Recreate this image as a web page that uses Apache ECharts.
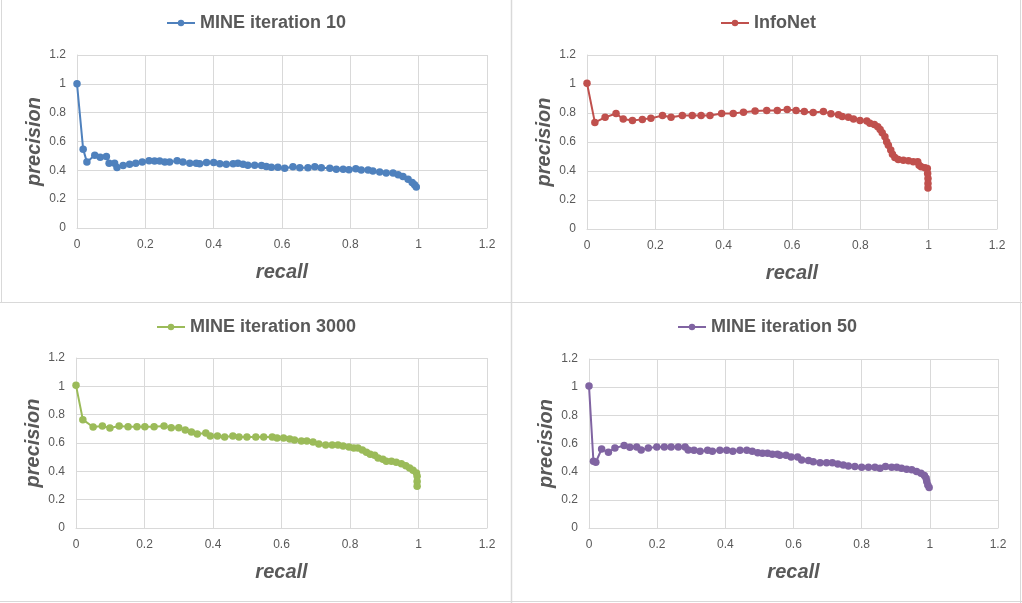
<!DOCTYPE html>
<html>
<head>
<meta charset="utf-8">
<script src="https://cdn.jsdelivr.net/npm/echarts@6/dist/echarts.min.js"></script>
<style>
  html, body { margin: 0; padding: 0; background: #fff; }
  #main { width: 1022px; height: 603px; }
</style>
</head>
<body>
<div id="main"></div>
<script>
// recall / precision
var mine10Recall = [0, 0.018, 0.029, 0.052, 0.068, 0.086, 0.094, 0.11, 0.117, 0.135, 0.154, 0.172, 0.191, 0.211, 0.227, 0.242, 0.257, 0.271, 0.293, 0.31, 0.33, 0.349, 0.359, 0.379, 0.4, 0.418, 0.437, 0.457, 0.471, 0.486, 0.5, 0.52, 0.54, 0.554, 0.569, 0.588, 0.608, 0.632, 0.652, 0.676, 0.696, 0.715, 0.74, 0.759, 0.779, 0.796, 0.816, 0.832, 0.852, 0.866, 0.886, 0.905, 0.925, 0.94, 0.954, 0.969, 0.981, 0.988, 0.993];
var mine10Precision = [1.0, 0.547, 0.457, 0.505, 0.49, 0.496, 0.45, 0.45, 0.42, 0.434, 0.443, 0.45, 0.457, 0.466, 0.464, 0.464, 0.457, 0.457, 0.466, 0.457, 0.45, 0.45, 0.445, 0.455, 0.455, 0.445, 0.443, 0.445, 0.45, 0.443, 0.436, 0.436, 0.434, 0.427, 0.422, 0.422, 0.415, 0.425, 0.418, 0.418, 0.425, 0.418, 0.415, 0.408, 0.408, 0.404, 0.411, 0.402, 0.402, 0.395, 0.388, 0.381, 0.381, 0.369, 0.358, 0.339, 0.316, 0.30, 0.284];

var infoRecall = [0, 0.023, 0.053, 0.085, 0.106, 0.133, 0.162, 0.187, 0.221, 0.246, 0.279, 0.308, 0.334, 0.36, 0.394, 0.428, 0.458, 0.492, 0.526, 0.557, 0.586, 0.612, 0.636, 0.662, 0.692, 0.714, 0.736, 0.747, 0.765, 0.78, 0.799, 0.819, 0.828, 0.841, 0.851, 0.858, 0.864, 0.872, 0.877, 0.882, 0.889, 0.894, 0.901, 0.911, 0.926, 0.941, 0.955, 0.968, 0.972, 0.978, 0.989, 0.996, 0.997, 0.998, 0.998, 0.998];
var infoPrecision = [1.005, 0.735, 0.77, 0.797, 0.758, 0.749, 0.756, 0.763, 0.783, 0.77, 0.783, 0.783, 0.783, 0.783, 0.797, 0.797, 0.806, 0.813, 0.818, 0.818, 0.825, 0.818, 0.811, 0.804, 0.811, 0.795, 0.788, 0.776, 0.77, 0.758, 0.749, 0.744, 0.73, 0.721, 0.705, 0.687, 0.664, 0.636, 0.601, 0.578, 0.544, 0.516, 0.493, 0.479, 0.475, 0.47, 0.463, 0.463, 0.44, 0.429, 0.422, 0.417, 0.383, 0.348, 0.313, 0.283];

var mine3000Recall = [0, 0.02, 0.05, 0.077, 0.099, 0.126, 0.152, 0.178, 0.201, 0.228, 0.257, 0.278, 0.3, 0.319, 0.337, 0.354, 0.379, 0.392, 0.413, 0.434, 0.458, 0.476, 0.499, 0.525, 0.548, 0.573, 0.587, 0.606, 0.624, 0.638, 0.658, 0.674, 0.692, 0.709, 0.729, 0.748, 0.765, 0.78, 0.797, 0.811, 0.823, 0.836, 0.848, 0.859, 0.872, 0.882, 0.896, 0.906, 0.921, 0.935, 0.95, 0.963, 0.974, 0.984, 0.994, 0.996, 0.996, 0.996];
var mine3000Precision = [1.007, 0.765, 0.713, 0.72, 0.706, 0.72, 0.715, 0.715, 0.715, 0.715, 0.72, 0.708, 0.708, 0.692, 0.678, 0.664, 0.671, 0.649, 0.649, 0.642, 0.649, 0.642, 0.642, 0.642, 0.642, 0.642, 0.635, 0.635, 0.628, 0.621, 0.614, 0.614, 0.607, 0.593, 0.586, 0.586, 0.586, 0.579, 0.572, 0.565, 0.565, 0.551, 0.534, 0.52, 0.513, 0.494, 0.485, 0.471, 0.471, 0.464, 0.454, 0.44, 0.424, 0.407, 0.388, 0.365, 0.329, 0.294];

var mine50Recall = [0, 0.013, 0.02, 0.037, 0.057, 0.076, 0.103, 0.12, 0.14, 0.153, 0.174, 0.199, 0.221, 0.241, 0.262, 0.282, 0.291, 0.308, 0.326, 0.348, 0.362, 0.384, 0.404, 0.422, 0.443, 0.463, 0.479, 0.495, 0.509, 0.524, 0.538, 0.553, 0.56, 0.578, 0.593, 0.612, 0.624, 0.644, 0.658, 0.678, 0.697, 0.714, 0.73, 0.746, 0.761, 0.78, 0.8, 0.82, 0.839, 0.854, 0.87, 0.888, 0.903, 0.917, 0.932, 0.947, 0.961, 0.974, 0.984, 0.989, 0.991, 0.994, 0.998];
var mine50Precision = [1.009, 0.474, 0.467, 0.561, 0.537, 0.568, 0.585, 0.573, 0.575, 0.554, 0.568, 0.575, 0.575, 0.575, 0.575, 0.575, 0.554, 0.552, 0.545, 0.552, 0.545, 0.552, 0.552, 0.545, 0.552, 0.552, 0.545, 0.535, 0.53, 0.53, 0.523, 0.523, 0.516, 0.516, 0.504, 0.504, 0.483, 0.479, 0.471, 0.464, 0.464, 0.464, 0.455, 0.448, 0.441, 0.436, 0.431, 0.431, 0.431, 0.424, 0.436, 0.431, 0.431, 0.424, 0.417, 0.413, 0.401, 0.389, 0.372, 0.354, 0.33, 0.306, 0.288];

var panels = [
    {name: 'MINE iteration 10', color: '#4F81BD', x: mine10Recall, y: mine10Precision, grid: {left: 77, top: 55, width: 410, height: 173}, cx: 256, ly: 14},
    {name: 'InfoNet', color: '#C0504D', x: infoRecall, y: infoPrecision, grid: {left: 587, top: 55, width: 410, height: 174}, cx: 767, ly: 14},
    {name: 'MINE iteration 3000', color: '#9BBB59', x: mine3000Recall, y: mine3000Precision, grid: {left: 76, top: 358, width: 411, height: 170}, cx: 256, ly: 318},
    {name: 'MINE iteration 50', color: '#8064A2', x: mine50Recall, y: mine50Precision, grid: {left: 589, top: 359, width: 409, height: 169}, cx: 767, ly: 318}
];

var txt = '#595959';
var lineCol = '#d9d9d9';
var legendFont = 'bold 18px "Liberation Sans"';

function zip(a, b) {
    var out = [];
    for (var i = 0; i < a.length; i++) out.push([a[i], b[i]]);
    return out;
}
function fmt(v) { return String(+v.toFixed(1)); }

// text width, so the legend can be centred on its panel
var ctx = document.createElement('canvas').getContext('2d');
ctx.font = legendFont;

var grids = [], xAxes = [], yAxes = [], series = [], legends = [];

panels.forEach(function (p, i) {
    grids.push(p.grid);
    xAxes.push({
        type: 'value', gridIndex: i, min: 0, max: 1.2, interval: 0.2,
        name: 'recall', nameLocation: 'middle', nameGap: 34,
        nameTextStyle: {color: txt, fontSize: 20, fontWeight: 'bold', fontStyle: 'italic', fontFamily: 'Liberation Sans'},
        axisLine: {lineStyle: {color: lineCol}}, axisTick: {show: false},
        axisLabel: {color: txt, fontSize: 12, fontFamily: 'Liberation Sans', margin: 11, formatter: fmt},
        splitLine: {lineStyle: {color: lineCol}}
    });
    yAxes.push({
        type: 'value', gridIndex: i, min: 0, max: 1.2, interval: 0.2,
        name: 'precision', nameLocation: 'middle', nameGap: 33,
        nameTextStyle: {color: txt, fontSize: 20, fontWeight: 'bold', fontStyle: 'italic', fontFamily: 'Liberation Sans'},
        axisLine: {show: true, lineStyle: {color: lineCol}}, axisTick: {show: false},
        axisLabel: {color: txt, fontSize: 12, fontFamily: 'Liberation Sans', margin: 11, formatter: fmt},
        splitLine: {lineStyle: {color: lineCol}}
    });
    series.push({
        name: p.name, type: 'line', xAxisIndex: i, yAxisIndex: i,
        data: zip(p.x, p.y),
        symbol: 'circle', symbolSize: 7.5, showAllSymbol: true,
        itemStyle: {color: p.color}, lineStyle: {color: p.color, width: 2},
        animation: false
    });
    var w = 28 + 5 + ctx.measureText(p.name).width;
    legends.push({
        data: [p.name], left: Math.round(p.cx - w / 2), top: p.ly,
        padding: 0, itemWidth: 28, itemHeight: 8, itemGap: 0,
        textStyle: {color: txt, fontSize: 18, fontWeight: 'bold', fontFamily: 'Liberation Sans'}
    });
});

var myChart = echarts.init(document.getElementById('main'));
myChart.setOption({
    animation: false,
    grid: grids,
    xAxis: xAxes,
    yAxis: yAxes,
    legend: legends,
    series: series,
    graphic: [
        {type: 'line', shape: {x1: 1.5, y1: 0, x2: 1.5, y2: 302}, style: {stroke: lineCol, lineWidth: 1}},
        {type: 'line', shape: {x1: 511.5, y1: 0, x2: 511.5, y2: 603}, style: {stroke: lineCol, lineWidth: 1.5}},
        {type: 'line', shape: {x1: 1020.5, y1: 0, x2: 1020.5, y2: 603}, style: {stroke: lineCol, lineWidth: 1}},
        {type: 'line', shape: {x1: 0, y1: 302.5, x2: 1022, y2: 302.5}, style: {stroke: lineCol, lineWidth: 1}},
        {type: 'line', shape: {x1: 0, y1: 601.5, x2: 1022, y2: 601.5}, style: {stroke: lineCol, lineWidth: 1}}
    ]
});
</script>
</body>
</html>
